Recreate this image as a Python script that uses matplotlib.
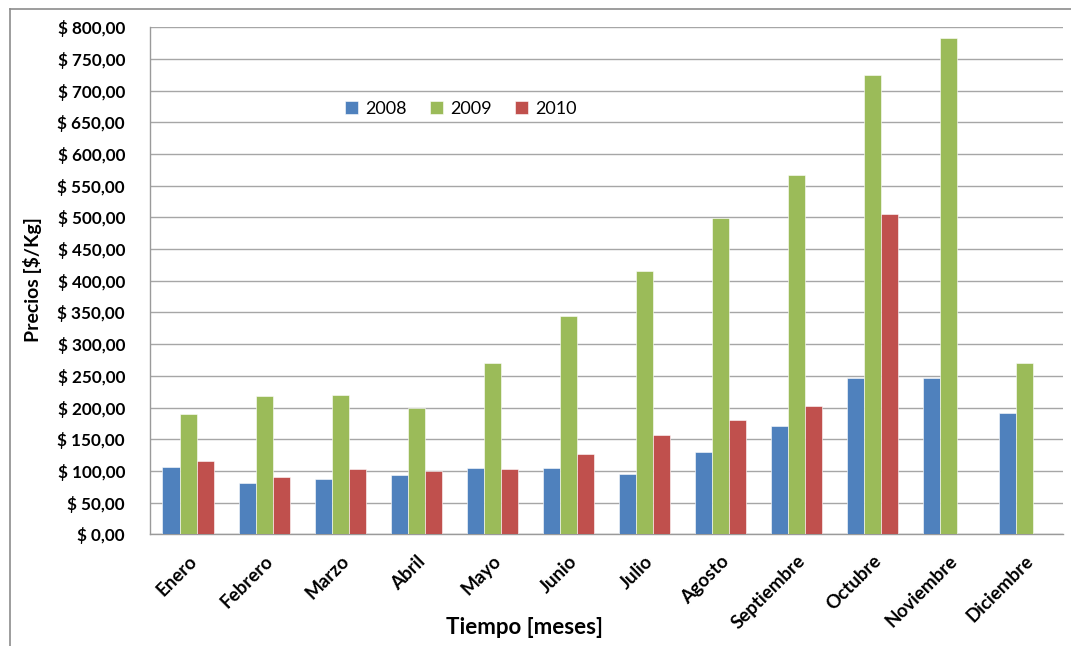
import numpy as np
import matplotlib
matplotlib.use("Agg")
import matplotlib.pyplot as plt
from matplotlib.lines import Line2D

meses = ["Enero", "Febrero", "Marzo", "Abril", "Mayo", "Junio", "Julio",
         "Agosto", "Septiembre", "Octubre", "Noviembre", "Diciembre"]
v2008 = [106.6, 80.4, 87.2, 93.0, 104.6, 104.6, 95.1, 130.3, 170.1, 246.2, 246.2, 191.8]
v2009 = [189.7, 218.6, 219.7, 199.7, 270.2, 343.8, 415.3, 499.0, 566.3, 725.5, 783.7, 270.7]
v2010 = [115.1, 90.4, 103.0, 99.4, 102.5, 126.7, 156.2, 179.8, 202.7, 506.0, np.nan, np.nan]
series = ["2008", "2009", "2010"]
colores = ["#4F81BD", "#9BBB59", "#C0504D"]
yticks = list(range(0, 801, 50))

plt.rcParams['font.family'] = ['Lato', 'DejaVu Sans']

fig = plt.figure(figsize=(10.71, 6.46), dpi=100)
ax = fig.add_axes([150/1071, 1-534.3/646, (1063-150)/1071, (534.3-27.3)/646])

x = np.arange(len(meses))
w = 0.224
for i, (vals, name, col) in enumerate(zip([v2008, v2009, v2010], series, colores)):
    ax.bar(x + (i-1)*w, vals, width=w, color=col, label=name, zorder=3,
           edgecolor='white', linewidth=0.4)

ax.set_xlim(-0.5, len(meses)-0.5)
ax.set_ylim(0, 800)
ax.set_yticks(yticks)
ax.set_yticklabels([f"$ {t},00" for t in yticks], fontsize=12.3, fontweight='bold')
ax.yaxis.grid(True, color='#a6a6a6', linewidth=1.0, zorder=0)
ax.set_axisbelow(True)
ax.tick_params(axis='y', length=0, pad=18)
ax.tick_params(axis='x', length=0, pad=13)
ax.set_xticks(x)
ax.set_xticklabels(meses, rotation=45, ha='right', rotation_mode='anchor',
                   fontsize=13.5, fontweight='bold')
for s in ['top', 'right']:
    ax.spines[s].set_visible(False)
for s in ['left', 'bottom']:
    ax.spines[s].set_color('#9a9a9a')
    ax.spines[s].set_linewidth(1.0)

leg = ax.legend(loc='center', bbox_to_anchor=((461-150)/913, (534.3-109)/507),
                ncol=3, frameon=False, fontsize=13, handlelength=0.7,
                handleheight=0.7, handletextpad=0.4, columnspacing=1.3)

fig.text(33/1071, 1-280/646, "Precios [$/Kg]", rotation=90, ha='center', va='center',
         fontsize=14, fontweight='bold')
fig.text(524/1071, 1-627/646, "Tiempo [meses]", ha='center', va='center',
         fontsize=16, fontweight='bold')

fig.add_artist(Line2D([10/1071, 10/1071], [0, 1-9/646], transform=fig.transFigure,
                      color='#8c8c8c', linewidth=1.2))
fig.add_artist(Line2D([10/1071, 1], [1-9/646, 1-9/646], transform=fig.transFigure,
                      color='#8c8c8c', linewidth=1.2))

fig.savefig("out.png", dpi=100)
